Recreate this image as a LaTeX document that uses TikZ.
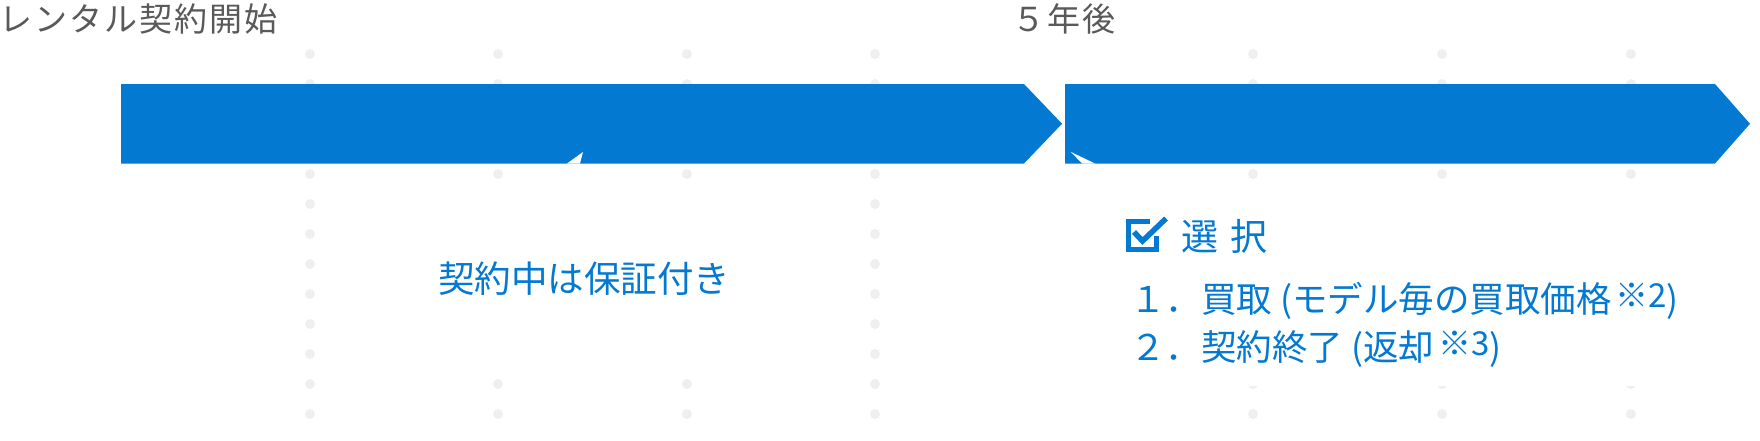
\documentclass[tikz,border=0pt]{standalone}
\usepackage{fontspec}
\setmainfont{Noto Sans CJK JP}
\usepackage{tikz}
\usetikzlibrary{positioning}
\definecolor{barblue}{HTML}{0379D1}
\definecolor{labelgray}{HTML}{595959}
\definecolor{dotgray}{HTML}{EFEFEF}

\begin{document}
\begin{tikzpicture}[
  x=1pt, y=-1pt,
  bar/.style={fill=barblue, draw=none},
  cover/.style={fill=white, draw=none},
  dotfill/.style={fill=dotgray, draw=none},
  stage/.style={text=labelgray, inner sep=0pt,
                font=\fontsize{33}{33}\selectfont\addfontfeatures{LetterSpace=6.4}},
  note/.style={text=barblue, inner sep=0pt, font=\fontsize{36.5}{37}\selectfont},
  item/.style={text=barblue, inner sep=0pt, font=\fontsize{35.5}{36}\selectfont},
  tick/.style={draw=barblue, line width=5pt}
]
\useasboundingbox (0,0) rectangle (1760,440);

\foreach \x in {310,498,687,875,1253,1442,1631}
  \foreach \y in {54,84,...,414}
    \fill[dotfill] (\x,\y) circle[radius=5pt];

\fill[bar] (121,84) -- (1024,84) -- (1062,123.75) -- (1024,163.5) -- (121,163.5) -- cycle;
\fill[bar] (1065,84) -- (1715,84) -- (1750,123.75) -- (1715,163.5) -- (1065,163.5) -- cycle;

\fill[cover] (320,186) rectangle (865,372);
\fill[cover] (567,163.5) -- (583,152) -- (580,163.5) -- cycle;
\fill[cover] (1100,186) rectangle (1700,386);
\fill[cover] (1071,152) -- (1082,163.5) -- (1095,163.5) -- cycle;

\node[stage, anchor=base west] (start) at (-1,31) {レンタル契約開始};
\node[stage, anchor=base west] (fiveyears) at (1012,31) {５年後};

\node[note, anchor=base] (warranty) at (584,292) {契約中は保証付き};

\draw[tick] (1150,221.5) -- (1128.5,221.5) -- (1128.5,249.5) -- (1156.5,249.5) -- (1156.5,236);
\draw[tick, line width=5.5pt] (1134,232) -- (1142.5,241) -- (1166,218.5);
\node[item, anchor=base west, font=\fontsize{37}{38}\selectfont] (choice) at (1181,250)
  {選\hspace{12pt}択};

\node[item, anchor=base west] (buyout) at (1130,312.5)
  {１．買取 (モデル毎の買取価格\hspace{4pt}\raisebox{5pt}{\fontsize{33}{33}\selectfont ※2})};
\node[item, anchor=base west] (giveback) at ([yshift=-48pt]buyout.base west)
  {２．契約終了 (返却\hspace{4pt}\raisebox{5pt}{\fontsize{33}{33}\selectfont ※3})};
\end{tikzpicture}
\end{document}
